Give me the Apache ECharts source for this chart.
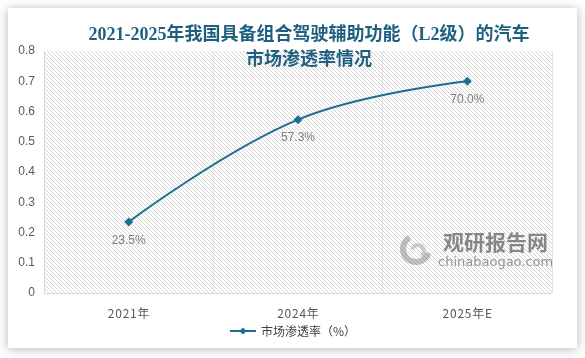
<!DOCTYPE html>
<html><head><meta charset="utf-8">
<script src="https://cdn.jsdelivr.net/npm/echarts@6/dist/echarts.min.js"></script>
<style>html,body{margin:0;padding:0;background:#fff}#c{width:585px;height:358px}</style>
</head><body><div id="c"></div>
<script>
const categories = ['2021年', '2024年', '2025年E'];
const penetration = [0.235, 0.573, 0.70];
const yTicks = [0, 0.1, 0.2, 0.3, 0.4, 0.5, 0.6, 0.7, 0.8];
const seriesName = '市场渗透率（%）';
const titleText = '2021-2025年我国具备组合驾驶辅助功能（L2级）的汽车\n市场渗透率情况';

const pc = document.createElement('canvas');
pc.width = 4; pc.height = 4;
const g = pc.getContext('2d');
g.fillStyle = '#ffffff'; g.fillRect(0,0,4,4);
g.strokeStyle = '#d4d4d4'; g.lineWidth = 1;
g.beginPath();
g.moveTo(-1,-1); g.lineTo(5,5);
g.moveTo(-1,3); g.lineTo(1,5);
g.moveTo(3,-1); g.lineTo(5,1);
g.stroke();

const chart = echarts.init(document.getElementById('c'), null, {renderer:'canvas'});
chart.setOption({
  animation: false,
  backgroundColor: '#ffffff',
  graphic: [
    {type:'rect', z:-10, shape:{x:8,y:8,width:569,height:340}, style:{fill:'#fff', shadowBlur:10, shadowColor:'rgba(0,0,0,0.3)', shadowOffsetX:0, shadowOffsetY:1}},
    {type:'text', z:5, left:443, top:232, style:{text:'观研报告网', fill:'rgba(115,115,115,0.85)', font:'bold 21px "Noto Sans CJK SC"'}},
    {type:'text', z:5, left:438, top:256, style:{text:'chinabaogao.com', fill:'rgba(130,130,130,0.85)', font:'13px "DejaVu Sans"'}},
    {type:'arc', z:5, shape:{cx:416, cy:249, r:13, startAngle:0.3, endAngle:4.2}, style:{fill:'none', stroke:'rgba(150,150,150,0.6)', lineWidth:6}},
    {type:'arc', z:5, shape:{cx:418, cy:251, r:6, startAngle:3.4, endAngle:7.2}, style:{fill:'none', stroke:'rgba(190,185,175,0.7)', lineWidth:4}}
  ],
  title: {
    text: titleText,
    left: 304, textAlign: 'center', top: 18,
    textStyle: {color:'#1f5f7f', fontSize:18, fontWeight:'bold', fontFamily:'"Liberation Serif","Noto Sans CJK SC"', lineHeight:25}
  },
  legend: {
    bottom: 16, left: 'center',
    itemWidth: 26, itemHeight: 9,
    textStyle: {color:'#404040', fontSize:12, fontFamily:'"Noto Sans CJK SC"'},
    data: [seriesName]
  },
  grid: {left:44, right:33, top:51, bottom:65, show:true, borderWidth:0, backgroundColor:{image:pc, repeat:'repeat'}},
  xAxis: {
    type:'category', data: categories, boundaryGap:true,
    axisLine:{lineStyle:{color:'#d9d9d9'}}, axisTick:{show:false},
    axisLabel:{color:'#595959', fontSize:12, margin:14, fontFamily:'"Noto Sans CJK SC"',
      formatter: v => v.split('').join('\u200A')},
    splitLine:{show:true, lineStyle:{color:'#e2e2e2'}}
  },
  yAxis: {
    type:'value', min:0, max:0.8, interval:0.1,
    axisLine:{show:true, lineStyle:{color:'#d9d9d9'}}, axisTick:{show:false},
    axisLabel:{color:'#595959', fontSize:12, margin:9, fontFamily:'"Liberation Sans"', formatter: v => String(+v.toFixed(1))},
    splitLine:{show:false}
  },
  series: [{
    name: seriesName, type:'line', smooth:0.4, data: penetration,
    symbol:'diamond', symbolSize:9,
    lineStyle:{color:'#1c6f8f', width:2}, itemStyle:{color:'#1c6f8f'},
    label:{show:true, position:'bottom', distance:8, color:'#7f7f7f', fontSize:12, fontFamily:'"Liberation Sans"', formatter: p => (p.value*100).toFixed(1)+'%'}
  }]
});
</script></body></html>
